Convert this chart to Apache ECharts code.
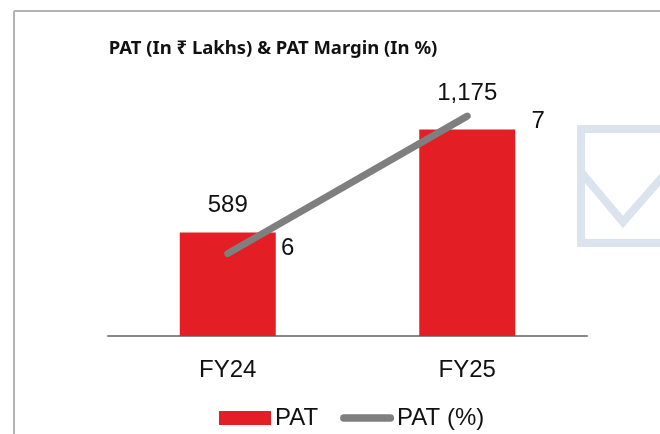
<!DOCTYPE html>
<html>
<head>
<meta charset="utf-8">
<script src="https://cdn.jsdelivr.net/npm/echarts@6/dist/echarts.min.js"></script>
<style>
  html, body { margin: 0; padding: 0; background: #fff; }
  #chart { width: 660px; height: 434px; }
</style>
</head>
<body>
<div id="chart"></div>
<script>
const years = ['FY24', 'FY25'];
const patValues = [589, 1175];
const patMargin = [6, 7];

const barLabelGap = [15, 24];
const lineLabelOffset = [[60, -5], [71, 5]];

const myChart = echarts.init(document.getElementById('chart'));
const font = 'Liberation Sans, Arial, sans-serif';

const option = {
    animation: false,
    backgroundColor: '#fff',
    title: {
        text: 'PAT (In ₹ Lakhs) & PAT Margin (In %)',
        left: 268,
        top: 34,
        textAlign: 'center',
        textStyle: { fontFamily: 'Noto Sans', fontWeight: 'bold', fontSize: 18.5, color: '#111' }
    },
    graphic: [
        { type: 'line', shape: { x1: 14, y1: 11, x2: 660, y2: 11 }, style: { stroke: '#b4b4b4', lineWidth: 2 } },
        { type: 'line', shape: { x1: 14, y1: 11, x2: 14, y2: 434 }, style: { stroke: '#b4b4b4', lineWidth: 2 } },
        { type: 'rect', shape: { x: 581, y: 129, width: 100, height: 114 }, style: { fill: 'none', stroke: '#dbe3ef', lineWidth: 8 }, z: -1 },
        { type: 'polyline', shape: { points: [[581, 172], [623, 222], [670, 168]] }, style: { fill: 'none', stroke: '#dbe3ef', lineWidth: 8 }, z: -1 }
    ],
    legend: {
        top: 401,
        left: 214,
        itemWidth: 54,
        itemHeight: 14,
        itemGap: 22,
        textStyle: { fontFamily: font, fontSize: 24, color: '#111', padding: [0, 0, 0, -2] },
        data: [
            { name: 'PAT', icon: 'path://M0,0 L52,0 L52,14 L0,14 Z' },
            { name: 'PAT (%)', icon: 'path://M4,0 L53,0 A4,4 0 0 1 53,8 L4,8 A4,4 0 0 1 4,0 Z', itemStyle: { color: '#7f7f7f' } }
        ]
    },
    grid: { left: 108, right: 73, top: 90, bottom: 98 },
    xAxis: {
        type: 'category',
        data: years,
        axisLine: { lineStyle: { color: '#888', width: 2 } },
        axisTick: { show: false },
        axisLabel: { fontFamily: font, fontSize: 24, color: '#111', margin: 22 }
    },
    yAxis: [
        { type: 'value', min: 0, max: 1400, show: false, splitLine: { show: false } },
        { type: 'value', min: 5.4, max: 7.19, show: false, splitLine: { show: false } }
    ],
    series: [
        {
            name: 'PAT',
            type: 'bar',
            barWidth: 96,
            itemStyle: { color: '#e31e24' },
            data: patValues.map((v, i) => ({
                value: v,
                label: { distance: barLabelGap[i] }
            })),
            label: {
                show: true,
                position: 'top',
                fontFamily: font,
                fontSize: 24,
                color: '#111',
                formatter: p => p.value.toLocaleString('en-US')
            }
        },
        {
            name: 'PAT (%)',
            type: 'line',
            yAxisIndex: 1,
            symbol: 'circle',
            symbolSize: 1,
            showSymbol: true,
            lineStyle: { color: '#7f7f7f', width: 7, cap: 'round' },
            itemStyle: { color: '#7f7f7f' },
            data: patMargin.map((v, i) => ({
                value: v,
                label: { offset: lineLabelOffset[i] }
            })),
            label: {
                show: true,
                position: 'inside',
                fontFamily: font,
                fontSize: 24,
                color: '#111'
            },
            z: 3
        }
    ]
};
myChart.setOption(option);
window.addEventListener('resize', () => myChart.resize());
</script>
</body>
</html>
